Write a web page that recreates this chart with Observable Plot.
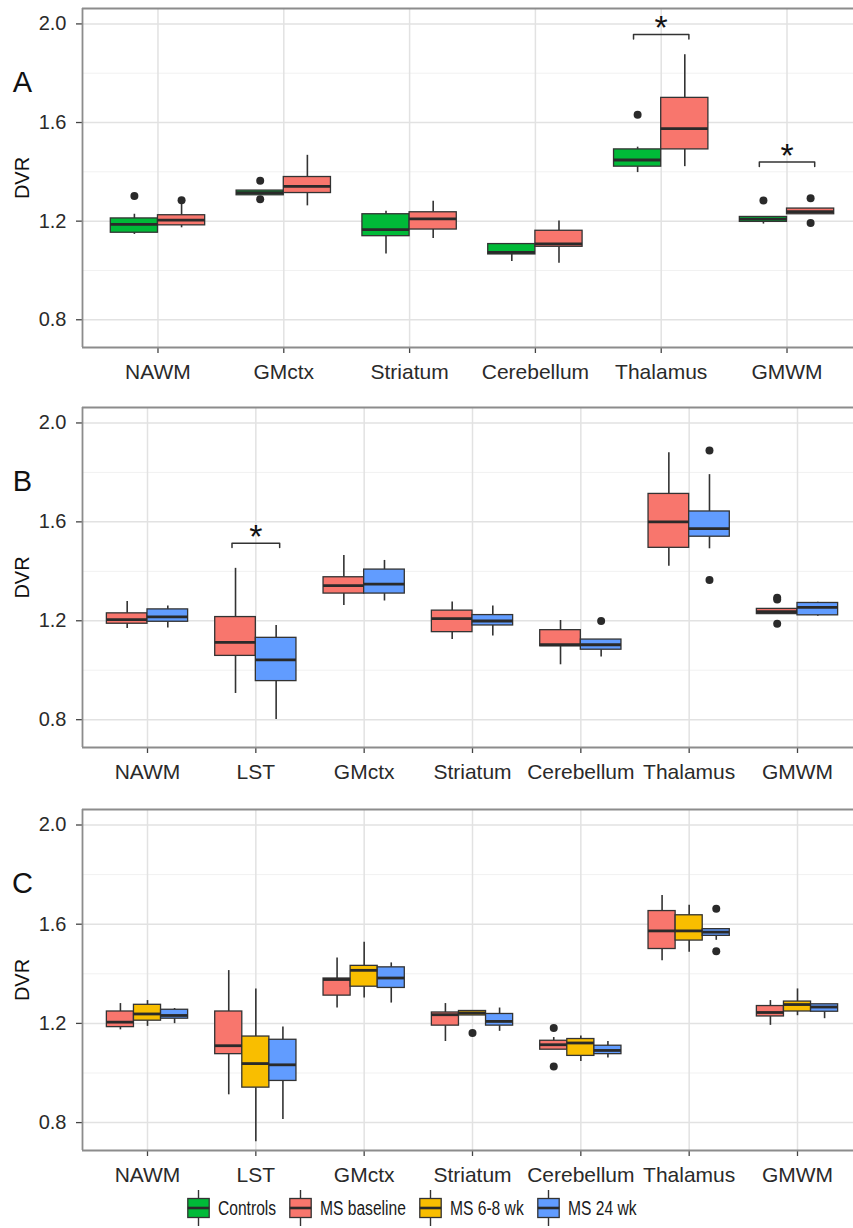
<!DOCTYPE html>
<html>
<head>
<meta charset="utf-8">
<script src="https://cdn.jsdelivr.net/npm/d3@7"></script>
<script src="https://cdn.jsdelivr.net/npm/@observablehq/plot@0.6"></script>
<style>
  html, body { margin: 0; padding: 0; background: #fff; overflow: hidden; }
  #chart { position: relative; width: 853px; height: 1228px; font-family: "Liberation Sans", Arial, sans-serif; }
  #chart svg { display: block; overflow: hidden; }
  .legend { position: absolute; top: 1190px; left: 187px; display: flex; align-items: center; height: 36px;
            font-family: "Liberation Sans", Arial, sans-serif; font-size: 20px; color: #1a1a1a; white-space: nowrap; }
  .legend .item { display: flex; align-items: center; margin-right: 13px; }
  .legend svg { display: block; margin-right: 8px; }
  .legend span { display: inline-block; transform: scaleX(0.78); transform-origin: left center; }
</style>
</head>
<body>
<div id="chart"></div>
<script>
// ---------- data ----------
const groups = ["Controls", "MS baseline", "MS 6-8 wk", "MS 24 wk"];
const groupColors = ["#00BA38", "#F8766D", "#F9BE00", "#619CFF"];
const yTicks = [0.8, 1.2, 1.6, 2.0];
const yMinor = [1.0, 1.4, 1.8];
const yDomain = [0.6875, 2.0625];

// Panel A
const regionsA = ["NAWM", "GMctx", "Striatum", "Cerebellum", "Thalamus", "GMWM"];
const groupsA = ["Controls", "MS baseline"];
// [region, group, lower whisker, Q1, median, Q3, upper whisker]
const boxesA = [
  ["NAWM", "Controls", 1.146, 1.153, 1.187, 1.211, 1.228],
  ["NAWM", "MS baseline", 1.173, 1.183, 1.204, 1.224, 1.272],
  ["GMctx", "Controls", 1.305, 1.305, 1.316, 1.324, 1.324],
  ["GMctx", "MS baseline", 1.262, 1.314, 1.341, 1.379, 1.467],
  ["Striatum", "Controls", 1.067, 1.139, 1.166, 1.228, 1.240],
  ["Striatum", "MS baseline", 1.130, 1.166, 1.209, 1.236, 1.281],
  ["Cerebellum", "Controls", 1.036, 1.065, 1.073, 1.107, 1.107],
  ["Cerebellum", "MS baseline", 1.029, 1.096, 1.108, 1.161, 1.201],
  ["Thalamus", "Controls", 1.397, 1.421, 1.448, 1.491, 1.500],
  ["Thalamus", "MS baseline", 1.421, 1.491, 1.575, 1.700, 1.875],
  ["GMWM", "Controls", 1.188, 1.197, 1.208, 1.217, 1.217],
  ["GMWM", "MS baseline", 1.228, 1.228, 1.239, 1.251, 1.251]
];
const outliersA = [
  ["NAWM", "Controls", 1.302], ["NAWM", "MS baseline", 1.285],
  ["GMctx", "Controls", 1.364], ["GMctx", "Controls", 1.289],
  ["Thalamus", "Controls", 1.632],
  ["GMWM", "Controls", 1.284], ["GMWM", "MS baseline", 1.293], ["GMWM", "MS baseline", 1.192]
];
const sigA = [["Thalamus", 1.957], ["GMWM", 1.440]];

// Panel B
const regionsB = ["NAWM", "LST", "GMctx", "Striatum", "Cerebellum", "Thalamus", "GMWM"];
const groupsB = ["MS baseline", "MS 24 wk"];
const boxesB = [
  ["NAWM", "MS baseline", 1.169, 1.188, 1.205, 1.230, 1.278],
  ["NAWM", "MS 24 wk", 1.171, 1.196, 1.216, 1.246, 1.260],
  ["LST", "MS baseline", 0.906, 1.058, 1.113, 1.215, 1.412],
  ["LST", "MS 24 wk", 0.801, 0.956, 1.042, 1.131, 1.181],
  ["GMctx", "MS baseline", 1.262, 1.310, 1.342, 1.376, 1.464],
  ["GMctx", "MS 24 wk", 1.280, 1.310, 1.348, 1.407, 1.444],
  ["Striatum", "MS baseline", 1.124, 1.154, 1.209, 1.241, 1.276],
  ["Striatum", "MS 24 wk", 1.138, 1.181, 1.199, 1.223, 1.260],
  ["Cerebellum", "MS baseline", 1.022, 1.097, 1.103, 1.162, 1.201],
  ["Cerebellum", "MS 24 wk", 1.053, 1.083, 1.103, 1.124, 1.124],
  ["Thalamus", "MS baseline", 1.420, 1.495, 1.600, 1.713, 1.879],
  ["Thalamus", "MS 24 wk", 1.491, 1.540, 1.573, 1.642, 1.791],
  ["GMWM", "MS baseline", 1.227, 1.227, 1.237, 1.248, 1.248],
  ["GMWM", "MS 24 wk", 1.218, 1.222, 1.254, 1.272, 1.275]
];
const outliersB = [
  ["Cerebellum", "MS 24 wk", 1.199],
  ["Thalamus", "MS 24 wk", 1.889], ["Thalamus", "MS 24 wk", 1.365],
  ["GMWM", "MS baseline", 1.293], ["GMWM", "MS baseline", 1.286], ["GMWM", "MS baseline", 1.188]
];
const sigB = [["LST", 1.514]];

// Panel C
const regionsC = ["NAWM", "LST", "GMctx", "Striatum", "Cerebellum", "Thalamus", "GMWM"];
const groupsC = ["MS baseline", "MS 6-8 wk", "MS 24 wk"];
const boxesC = [
  ["NAWM", "MS baseline", 1.174, 1.185, 1.205, 1.248, 1.280],
  ["NAWM", "MS 6-8 wk", 1.188, 1.211, 1.238, 1.275, 1.292],
  ["NAWM", "MS 24 wk", 1.199, 1.219, 1.232, 1.255, 1.260],
  ["LST", "MS baseline", 0.912, 1.076, 1.110, 1.248, 1.413],
  ["LST", "MS 6-8 wk", 0.723, 0.941, 1.038, 1.147, 1.339],
  ["LST", "MS 24 wk", 0.813, 0.968, 1.033, 1.134, 1.185],
  ["GMctx", "MS baseline", 1.262, 1.312, 1.377, 1.381, 1.464],
  ["GMctx", "MS 6-8 wk", 1.302, 1.348, 1.414, 1.432, 1.527],
  ["GMctx", "MS 24 wk", 1.282, 1.343, 1.383, 1.426, 1.444],
  ["Striatum", "MS baseline", 1.127, 1.191, 1.235, 1.244, 1.280],
  ["Striatum", "MS 6-8 wk", 1.232, 1.232, 1.242, 1.250, 1.250],
  ["Striatum", "MS 24 wk", 1.168, 1.191, 1.208, 1.238, 1.262],
  ["Cerebellum", "MS baseline", 1.094, 1.094, 1.114, 1.130, 1.143],
  ["Cerebellum", "MS 6-8 wk", 1.046, 1.069, 1.121, 1.137, 1.149],
  ["Cerebellum", "MS 24 wk", 1.060, 1.076, 1.091, 1.110, 1.127],
  ["Thalamus", "MS baseline", 1.453, 1.500, 1.573, 1.653, 1.716],
  ["Thalamus", "MS 6-8 wk", 1.487, 1.534, 1.573, 1.636, 1.676],
  ["Thalamus", "MS 24 wk", 1.535, 1.553, 1.568, 1.580, 1.580],
  ["GMWM", "MS baseline", 1.192, 1.228, 1.244, 1.270, 1.292],
  ["GMWM", "MS 6-8 wk", 1.231, 1.248, 1.276, 1.288, 1.339],
  ["GMWM", "MS 24 wk", 1.219, 1.247, 1.266, 1.277, 1.277]
];
const outliersC = [
  ["Striatum", "MS 6-8 wk", 1.161],
  ["Cerebellum", "MS baseline", 1.181], ["Cerebellum", "MS baseline", 1.026],
  ["Thalamus", "MS 24 wk", 1.662], ["Thalamus", "MS 24 wk", 1.491]
];
const sigC = [];

// ---------- drawing ----------
const FONT = '"Liberation Sans", Arial, sans-serif';
const chart = document.getElementById("chart");

function panel(cfg) {
  const { letter, regions, grp, boxes, outliers, sig, marginTop, plotHeight, marginBottom } = cfg;
  const n = regions.length, k = grp.length, bw = 0.75 / k;
  const xDomain = [-0.6, n - 0.4];
  const center = (region, group) => regions.indexOf(region) + (grp.indexOf(group) - (k - 1) / 2) * bw;
  const rows = boxes.map(([region, group, lo, q1, med, q3, hi]) => {
    const c = center(region, group);
    return { region, group, lo, q1, med, q3, hi, c, x1: c - bw / 2, x2: c + bw / 2 };
  });
  const outRows = outliers.map(([region, group, v]) => ({ c: center(region, group), v }));
  const brHalf = 0.22, brTip = 0.018;
  const brPts = sig.flatMap(([region, y], j) => {
    const i = regions.indexOf(region);
    return [
      { id: j, x: i - brHalf, y: y - brTip }, { id: j, x: i - brHalf, y },
      { id: j, x: i + brHalf, y }, { id: j, x: i + brHalf, y: y - brTip }
    ];
  });
  const starRows = sig.map(([region, y]) => ({ x: regions.indexOf(region), y }));
  const ink = "#333333";
  const border = "#8c8c8c";

  return Plot.plot({
    width: 853,
    height: marginTop + plotHeight + marginBottom,
    marginLeft: 82,
    marginRight: 0,
    marginTop,
    marginBottom,
    // the panel continues a little beyond the right edge of the picture
    x: { type: "linear", domain: xDomain, range: [82, 862] },
    y: { domain: yDomain },
    color: { domain: groups, range: groupColors },
    style: { fontFamily: FONT, fontSize: "20px", color: "#2a2a2a", background: "#fff", overflow: "hidden" },
    marks: [
      Plot.ruleY(yMinor, { stroke: "#f1f1f1", strokeWidth: 1 }),
      Plot.ruleY(yTicks, { stroke: "#e2e2e2", strokeWidth: 1.5 }),
      Plot.ruleX(d3.range(n), { stroke: "#e2e2e2", strokeWidth: 1.5 }),
      Plot.axisY({ ticks: yTicks, tickFormat: d3.format(".1f"), tickSize: 6, tickPadding: 10,
                   label: null, fontSize: 20, stroke: "#444", strokeWidth: 1.3 }),
      Plot.axisX({ ticks: d3.range(n), tickFormat: i => regions[i], tickSize: 6, tickPadding: 11,
                   label: null, fontSize: 21, stroke: "#444", strokeWidth: 1.3 }),
      Plot.ruleX(rows, { x: "c", y1: "lo", y2: "q1", stroke: ink, strokeWidth: 1.6 }),
      Plot.ruleX(rows, { x: "c", y1: "q3", y2: "hi", stroke: ink, strokeWidth: 1.6 }),
      Plot.rect(rows, { x1: "x1", x2: "x2", y1: "q1", y2: "q3", fill: "group", stroke: ink, strokeWidth: 1.3 }),
      Plot.ruleY(rows, { x1: "x1", x2: "x2", y: "med", stroke: "#2a2a2a", strokeWidth: 2.8 }),
      Plot.dot(outRows, { x: "c", y: "v", r: 4, fill: "#2a2a2a", stroke: "none" }),
      Plot.line(brPts, { x: "x", y: "y", z: "id", stroke: ink, strokeWidth: 1.5 }),
      Plot.text(starRows, { x: "x", y: "y", text: () => "*", fontSize: 34, dy: -6, fill: "#111" }),
      // panel border: left, top and bottom (the right side lies beyond the picture)
      Plot.ruleY(yDomain, { stroke: border, strokeWidth: 1.8 }),
      Plot.ruleX([xDomain[0]], { stroke: border, strokeWidth: 1.8 }),
      Plot.text(["DVR"], { text: d => d, frameAnchor: "left", textAnchor: "middle", dx: -60, rotate: -90,
                           fontSize: 20, fill: "#111" }),
      Plot.text([letter], { text: d => d, frameAnchor: "top-left", textAnchor: "middle", dx: -60, dy: 63,
                            fontSize: 29, fill: "#111" })
    ]
  });
}

chart.appendChild(panel({ letter: "A", regions: regionsA, grp: groupsA, boxes: boxesA, outliers: outliersA,
  sig: sigA, marginTop: 8, plotHeight: 339, marginBottom: 48 }));
chart.appendChild(panel({ letter: "B", regions: regionsB, grp: groupsB, boxes: boxesB, outliers: outliersB,
  sig: sigB, marginTop: 12, plotHeight: 340, marginBottom: 48 }));
chart.appendChild(panel({ letter: "C", regions: regionsC, grp: groupsC, boxes: boxesC, outliers: outliersC,
  sig: sigC, marginTop: 14, plotHeight: 341, marginBottom: 40 }));

// ---------- legend ----------
const legend = document.createElement("div");
legend.className = "legend";
chart.appendChild(legend);
groups.forEach((g, i) => {
  const item = document.createElement("div");
  item.className = "item";
  item.innerHTML =
    `<svg width="23" height="36" viewBox="0 0 23 36">
       <line x1="11.5" y1="0" x2="11.5" y2="36" stroke="#333" stroke-width="1.4"/>
       <rect x="0.8" y="8.5" width="21.4" height="19" fill="${groupColors[i]}" stroke="#333" stroke-width="1.3"/>
       <line x1="0.8" y1="18" x2="22.2" y2="18" stroke="#2a2a2a" stroke-width="2.6"/>
     </svg><span>${g}</span>`;
  legend.appendChild(item);
  const span = item.querySelector("span");
  // collapse the layout space freed by the horizontal squeeze
  span.style.marginRight = (-span.offsetWidth * 0.22) + "px";
});
</script>
</body>
</html>
